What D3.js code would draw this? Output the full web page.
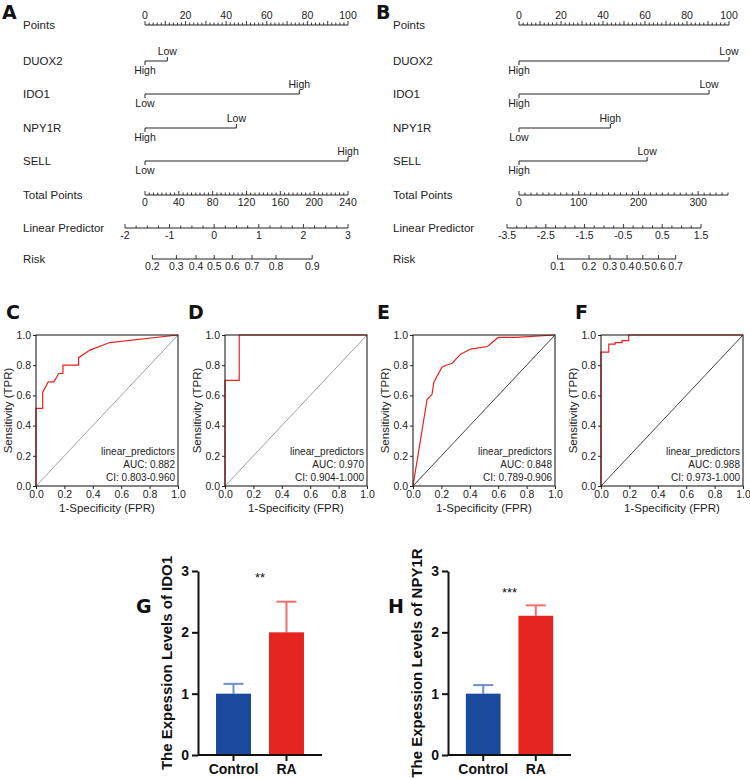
<!DOCTYPE html>
<html lang="en">
<head>
<meta charset="UTF-8">
<title>Nomograms, ROC curves and expression levels</title>
<style>
  body { margin: 0; background: #fff; }
  svg { display: block; font-family: "Liberation Sans", Arial, sans-serif; }
</style>
</head>
<body>
<svg id="fig" width="750" height="779"></svg>
<script src="https://d3js.org/d3.v7.min.js"></script>
<script>
// ---------- nomogram data ----------
const nomoVars = ["DUOX2", "IDO1", "NPY1R", "SELL"];

// panel A
const nomoAMaxPoints = [11, 76, 45, 100];
const nomoALevels = [["High", "Low"], ["Low", "High"], ["High", "Low"], ["Low", "High"]];
const nomoATotalMax = 240;
const nomoATotalLabels = [0, 40, 80, 120, 160, 200, 240];
const nomoALpDomain = [-2, 3];
const nomoALpLabels = [-2, -1, 0, 1, 2, 3];
const nomoARiskLabels = [0.2, 0.3, 0.4, 0.5, 0.6, 0.7, 0.8, 0.9];

// panel B
const nomoBMaxPoints = [100, 90.5, 43.5, 61];
const nomoBLevels = [["High", "Low"], ["High", "Low"], ["Low", "High"], ["High", "Low"]];
const nomoBTotalMax = 350;
const nomoBTotalLabels = [0, 100, 200, 300];
const nomoBLpDomain = [-3.5, 1.5];
const nomoBLpLabels = [-3.5, -2.5, -1.5, -0.5, 0.5, 1.5];
const nomoBRiskLabels = [0.1, 0.2, 0.3, 0.4, 0.5, 0.6, 0.7];

// ---------- ROC data ----------
const rocCFpr = [0, 0, 0.047, 0.047, 0.086, 0.126, 0.16, 0.19, 0.19, 0.30, 0.30, 0.38, 0.52, 1];
const rocCTpr = [0, 0.514, 0.514, 0.62, 0.69, 0.69, 0.745, 0.745, 0.80, 0.80, 0.85, 0.90, 0.95, 1];
const rocDFpr = [0, 0, 0.1, 0.1, 1];
const rocDTpr = [0, 0.70, 0.70, 1, 1];
const rocEFpr = [0, 0.099, 0.134, 0.146, 0.17, 0.205, 0.233, 0.276, 0.335, 0.406, 0.524, 0.60, 0.724, 1];
const rocETpr = [0, 0.573, 0.607, 0.684, 0.729, 0.789, 0.80, 0.813, 0.873, 0.907, 0.924, 0.984, 0.984, 1];
const rocFFpr = [0, 0, 0.055, 0.055, 0.10, 0.10, 0.148, 0.148, 0.195, 0.195, 1];
const rocFTpr = [0, 0.886, 0.886, 0.94, 0.94, 0.95, 0.95, 0.963, 0.963, 1, 1];
const rocAuc = ["AUC: 0.882", "AUC: 0.970", "AUC: 0.848", "AUC: 0.988"];
const rocCi = ["CI: 0.803-0.960", "CI: 0.904-1.000", "CI: 0.789-0.906", "CI: 0.973-1.000"];
const rocTicks = [0, 0.2, 0.4, 0.6, 0.8, 1.0];

// ---------- bar data ----------
const groups = ["Control", "RA"];
const ido1Mean = [1.0, 2.0];
const ido1Err = [0.16, 0.5];
const npy1rMean = [1.0, 2.27];
const npy1rErr = [0.14, 0.17];
const barTicks = [0, 1, 2, 3];

const svg = d3.select("#fig");
const ink = "#222";

// ---------- nomogram ----------
const rowY = { points: 25, vars: [61, 94, 128, 161], total: 195, lp: 228, risk: 259 };
const logit = p => Math.log(p / (1 - p));

function hAxis(g, scale, y, all, labels, major, labelAbove) {
  g.append("line").attr("x1", scale(all[0])).attr("x2", scale(all[all.length - 1]))
    .attr("y1", y).attr("y2", y).attr("stroke", ink).attr("stroke-width", 1);
  g.selectAll(null).data(all).enter().append("line")
    .attr("x1", d => scale(d)).attr("x2", d => scale(d))
    .attr("y1", y).attr("y2", d => y - (major(d) ? 4 : 2.5))
    .attr("stroke", ink).attr("stroke-width", 0.9);
  g.selectAll(null).data(labels).enter().append("text")
    .attr("x", d => scale(d)).attr("y", labelAbove ? y - 6 : y + 11)
    .attr("text-anchor", "middle").attr("font-size", 10.5).attr("fill", ink)
    .text(d => d);
}

function drawNomogram(ox, cfg) {
  const g = svg.append("g");
  const names = ["Points"].concat(nomoVars, ["Total Points", "Linear Predictor", "Risk"]);
  const ys = [rowY.points].concat(rowY.vars, [rowY.total, rowY.lp, rowY.risk]);
  g.selectAll(null).data(names).enter().append("text")
    .attr("x", ox + 23).attr("y", (d, i) => ys[i] + 4)
    .attr("font-size", 11.5).attr("fill", ink).text(d => d);

  const pts = d3.scaleLinear().domain([0, 100]).range(cfg.pointsRange);
  hAxis(g, pts, rowY.points, d3.range(0, 101, 2), [0, 20, 40, 60, 80, 100], d => d % 10 === 0, true);

  nomoVars.forEach((v, i) => {
    const y = rowY.vars[i];
    const xa = pts(0), xb = pts(cfg.maxPoints[i]);
    g.append("path")
      .attr("d", `M${xa},${y + 4}V${y}H${xb}V${y - 4}`)
      .attr("fill", "none").attr("stroke", ink).attr("stroke-width", 1);
    g.append("text").attr("x", xa).attr("y", y + 13).attr("text-anchor", "middle")
      .attr("font-size", 10.5).attr("fill", ink).text(cfg.levels[i][0]);
    g.append("text").attr("x", xb).attr("y", y - 6).attr("text-anchor", "middle")
      .attr("font-size", 10.5).attr("fill", ink).text(cfg.levels[i][1]);
  });

  const tot = d3.scaleLinear().domain([0, cfg.totalMax]).range(cfg.totalRange);
  hAxis(g, tot, rowY.total, d3.range(0, cfg.totalMax + 0.1, cfg.totalStep), cfg.totalLabels,
    d => cfg.totalLabels.includes(d), false);

  const lp = d3.scaleLinear().domain(cfg.lpDomain).range(cfg.lpRange);
  const lpAll = d3.range(cfg.lpDomain[0], cfg.lpDomain[1] + 0.01, 0.25);
  hAxis(g, lp, rowY.lp, lpAll, cfg.lpLabels,
    d => cfg.lpLabels.some(l => Math.abs(l - d) < 1e-6), false);

  const risk = p => lp(logit(p));
  hAxis(g, risk, rowY.risk, cfg.riskLabels, cfg.riskLabels, () => true, false);
}

drawNomogram(0, {
  pointsRange: [145, 348], maxPoints: nomoAMaxPoints, levels: nomoALevels,
  totalMax: nomoATotalMax, totalRange: [145, 348], totalStep: 5, totalLabels: nomoATotalLabels,
  lpDomain: nomoALpDomain, lpRange: [125, 348], lpLabels: nomoALpLabels, riskLabels: nomoARiskLabels
});
drawNomogram(370, {
  pointsRange: [519, 729], maxPoints: nomoBMaxPoints, levels: nomoBLevels,
  totalMax: nomoBTotalMax, totalRange: [519, 728], totalStep: 10, totalLabels: nomoBTotalLabels,
  lpDomain: nomoBLpDomain, lpRange: [507, 701], lpLabels: nomoBLpLabels, riskLabels: nomoBRiskLabels
});

// ---------- ROC ----------
function drawRoc(left, top, fpr, tpr, auc, ci, diagColor) {
  const w = 142, h = 151;
  const g = svg.append("g").attr("transform", `translate(${left},${top})`);
  const x = d3.scaleLinear().domain([0, 1]).range([0, w]);
  const y = d3.scaleLinear().domain([0, 1]).range([h, 0]);

  const ax = g.append("g").attr("transform", `translate(0,${h})`)
    .call(d3.axisBottom(x).tickValues(rocTicks).tickFormat(d3.format(".1f")).tickSize(3).tickPadding(2));
  const ay = g.append("g")
    .call(d3.axisLeft(y).tickValues(rocTicks).tickFormat(d3.format(".1f")).tickSize(3).tickPadding(2));
  [ax, ay].forEach(a => {
    a.select(".domain").remove();
    a.selectAll("text").attr("font-size", 10.5).attr("fill", ink).attr("font-family", "Liberation Sans, Arial, sans-serif");
    a.selectAll("line").attr("stroke", ink);
  });

  g.append("line").attr("x1", x(0)).attr("y1", y(0)).attr("x2", x(1)).attr("y2", y(1))
    .attr("stroke", diagColor).attr("stroke-width", 0.8);

  const pts = fpr.map((f, i) => [f, tpr[i]]);
  g.append("path").datum(pts)
    .attr("d", d3.line().x(d => x(d[0])).y(d => y(d[1])))
    .attr("fill", "none").attr("stroke", "#e8201c").attr("stroke-width", 1.2);

  g.append("rect").attr("width", w).attr("height", h)
    .attr("fill", "none").attr("stroke", ink).attr("stroke-width", 1.1);

  [["linear_predictors", -31], [auc, -18], [ci, -5]].forEach(([t, dy]) => {
    g.append("text").attr("x", w - 3).attr("y", h + dy).attr("text-anchor", "end")
      .attr("font-size", 10).attr("fill", ink).text(t);
  });

  g.append("text").attr("x", w / 2).attr("y", h + 26).attr("text-anchor", "middle")
    .attr("font-size", 11.5).attr("fill", ink).text("1-Specificity (FPR)");
  g.append("text").attr("transform", `translate(-24,${h / 2}) rotate(-90)`)
    .attr("text-anchor", "middle").attr("font-size", 11.5).attr("fill", ink)
    .text("Sensitivity (TPR)");
}

drawRoc(36, 335, rocCFpr, rocCTpr, rocAuc[0], rocCi[0], "#888");
drawRoc(225, 335, rocDFpr, rocDTpr, rocAuc[1], rocCi[1], "#888");
drawRoc(413, 335, rocEFpr, rocETpr, rocAuc[2], rocCi[2], "#111");
drawRoc(601, 335, rocFFpr, rocFTpr, rocAuc[3], rocCi[3], "#111");

// ---------- bar charts ----------
const barFill = ["#1a4a9b", "#e52420"];
const errFill = ["#6f8fd0", "#f0706c"];

function drawBars(axisX, axisEnd, means, errs, title, stars, starY) {
  const g = svg.append("g");
  const y = d3.scaleLinear().domain([0, 3]).range([755, 571]);
  const x = d3.scaleBand().domain(groups).range([axisX, axisEnd]).padding(0.34);

  groups.forEach((k, i) => {
    const cx = x(k) + x.bandwidth() / 2;
    g.append("line").attr("x1", cx).attr("x2", cx).attr("y1", y(means[i])).attr("y2", y(means[i] + errs[i]))
      .attr("stroke", errFill[i]).attr("stroke-width", 2);
    g.append("line").attr("x1", cx - 10).attr("x2", cx + 10)
      .attr("y1", y(means[i] + errs[i])).attr("y2", y(means[i] + errs[i]))
      .attr("stroke", errFill[i]).attr("stroke-width", 2);
  });
  g.selectAll(null).data(groups).enter().append("rect")
    .attr("x", d => x(d)).attr("width", x.bandwidth())
    .attr("y", (d, i) => y(means[i])).attr("height", (d, i) => y(0) - y(means[i]))
    .attr("fill", (d, i) => barFill[i]);

  const ay = g.append("g").attr("transform", `translate(${axisX},0)`)
    .call(d3.axisLeft(y).tickValues(barTicks).tickFormat(d3.format("d")).tickSize(6).tickPadding(3).tickSizeOuter(0));
  const ax = g.append("g").attr("transform", `translate(0,${y(0)})`)
    .call(d3.axisBottom(x).tickSize(6).tickPadding(3).tickSizeOuter(0));
  ax.select(".domain").attr("d", `M${axisX},0H${axisEnd}`);
  [ax, ay].forEach(a => {
    a.selectAll("path, line").attr("stroke", "#111").attr("stroke-width", 2);
    a.selectAll("text").attr("font-size", 14).attr("font-weight", "bold").attr("fill", "#111")
      .attr("font-family", "Liberation Sans, Arial, sans-serif");
  });

  g.append("text").attr("transform", `translate(${axisX - 26},${(y(0) + y(3)) / 2}) rotate(-90)`)
    .attr("text-anchor", "middle").attr("font-size", 15).attr("font-weight", "bold").attr("fill", "#111")
    .text(title);
  g.append("text").attr("x", (x("Control") + x("RA") + x.bandwidth()) / 2).attr("y", starY)
    .attr("text-anchor", "middle").attr("font-size", 13).attr("fill", "#111").text(stars);
}

drawBars(198, 322, ido1Mean, ido1Err, "The Expession Levels of IDO1", "**", 582);
drawBars(448, 571, npy1rMean, npy1rErr, "The Expession Levels of NPY1R", "***", 597);

// ---------- panel letters ----------
const letters = ["A", "B", "C", "D", "E", "F", "G", "H"];
const letterX = [2, 376, 6, 188, 377, 575, 136, 388];
const letterY = [19, 19, 319, 319, 319, 319, 613, 613];
svg.selectAll(null).data(letters).enter().append("text")
  .attr("x", (d, i) => letterX[i]).attr("y", (d, i) => letterY[i])
  .attr("font-family", "DejaVu Sans, sans-serif").attr("font-weight", "bold")
  .attr("font-size", 19).attr("fill", "#111").text(d => d);
</script>
</body>
</html>
